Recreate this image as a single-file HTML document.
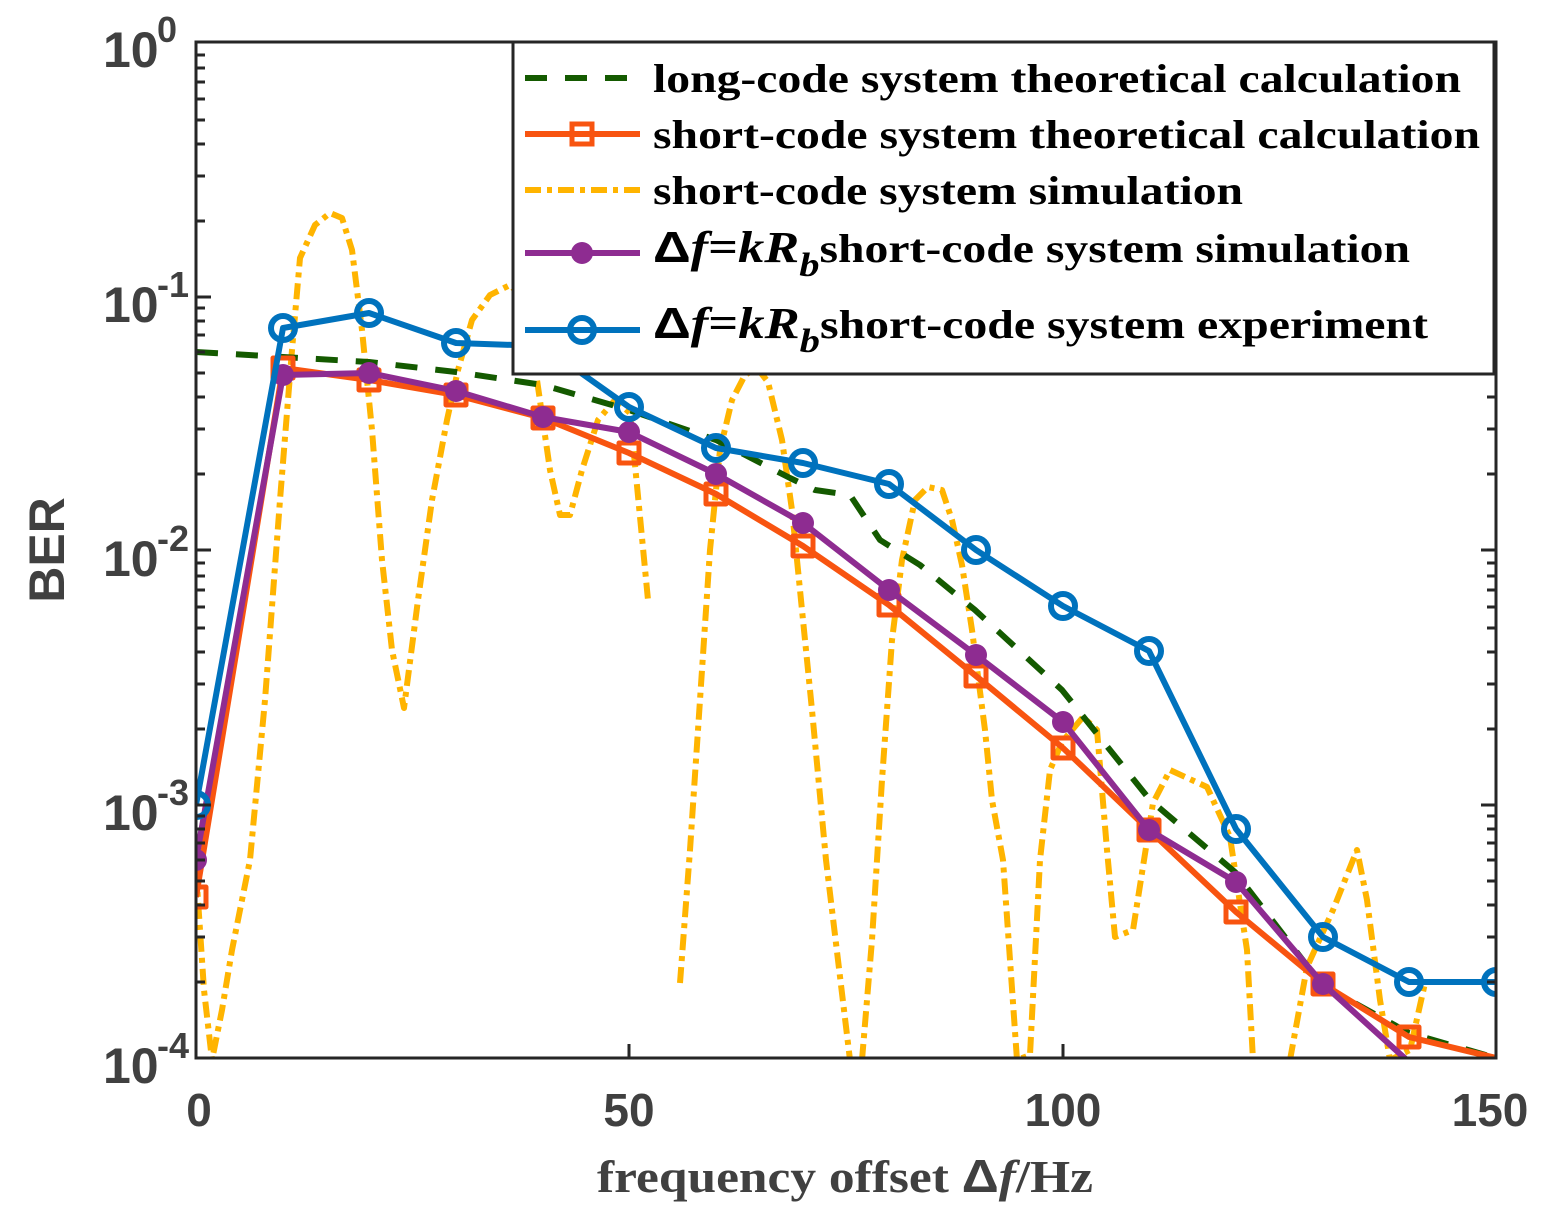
<!DOCTYPE html>
<html><head><meta charset="utf-8"><style>
html,body{margin:0;padding:0;background:#fff;}
svg{display:block;}
</style></head><body>
<svg width="1552" height="1225" viewBox="0 0 1552 1225" xmlns="http://www.w3.org/2000/svg">
<defs><clipPath id="c"><rect x="196" y="42" width="1300" height="1016"/></clipPath></defs>
<rect width="1552" height="1225" fill="#fff"/>
<g clip-path="url(#c)" fill="none" stroke-linejoin="round">
<g stroke="#FFB400" stroke-width="6" stroke-dasharray="16,6,5,6">
<polyline points="196,870 204,990 212,1060 222,1010 232,950 250,860 265,700 280,500 292,350 300,258 315,225 330,213 342,218 352,250 362,330 372,430 382,560 392,650 404,708 418,600 432,500 447,420 458,370 472,320 490,295 510,285 525,300 537,380 550,470 560,515 570,515 582,470 598,420 615,400 630,413 648,600"/>
<polyline points="680,983 690,850 700,700 710,550 720,450 732,400 745,375 757,368 768,382 782,440 792,510 802,610 812,710 826,860 850,1060"/>
<polyline points="862,1060 872,940 882,780 892,640 902,560 915,500 928,487 942,490 952,520 962,565 972,630 985,730 992,800 1003,860 1017,1060 1030,1055 1040,860 1050,770 1062,742 1083,717 1097,730 1107,850 1115,937 1133,930 1153,803 1170,770 1207,787 1230,837 1247,950 1253,1060"/>
<polyline points="1290,1060 1307,967 1333,910 1357,850 1367,900 1380,1000 1390,1060 1410,1050 1425,983"/>
</g>
<polyline stroke="#145A00" stroke-width="6" stroke-dasharray="22,18" points="196,352 283,357 369,362 456,372 543,385 629,410 716,440 790,478 815,490 850,495 880,540 920,565 975,610 1062,690 1150,800 1235,872 1322,985 1409,1033 1496,1058"/>
<polyline stroke="#F85410" stroke-width="6" points="196,897 283,368 369,380 456,395 543,418 629,453 716,494 803,546 889,605 976,676 1063,748 1149,830 1236,912 1323,984 1409,1037 1496,1058"/>
<g stroke="#F85410" stroke-width="5">
<rect x="186" y="887" width="20" height="20"/><rect x="273" y="358" width="20" height="20"/><rect x="359" y="370" width="20" height="20"/><rect x="446" y="385" width="20" height="20"/><rect x="533" y="408" width="20" height="20"/><rect x="619" y="443" width="20" height="20"/><rect x="706" y="484" width="20" height="20"/><rect x="793" y="536" width="20" height="20"/><rect x="879" y="595" width="20" height="20"/><rect x="966" y="666" width="20" height="20"/><rect x="1053" y="738" width="20" height="20"/><rect x="1139" y="820" width="20" height="20"/><rect x="1226" y="902" width="20" height="20"/><rect x="1313" y="974" width="20" height="20"/><rect x="1399" y="1027" width="20" height="20"/>
</g>
<polyline stroke="#8E2C91" stroke-width="6" points="196,860 283,375 369,373 456,391 543,417 629,432 716,474 803,523 889,590 976,655 1063,722 1149,830 1236,882 1323,984 1409,1062"/>
<g fill="#8E2C91">
<circle cx="196" cy="860" r="11"/><circle cx="283" cy="375" r="11"/><circle cx="369" cy="373" r="11"/><circle cx="456" cy="391" r="11"/><circle cx="543" cy="417" r="11"/><circle cx="629" cy="432" r="11"/><circle cx="716" cy="474" r="11"/><circle cx="803" cy="523" r="11"/><circle cx="889" cy="590" r="11"/><circle cx="976" cy="655" r="11"/><circle cx="1063" cy="722" r="11"/><circle cx="1149" cy="830" r="11"/><circle cx="1236" cy="882" r="11"/><circle cx="1323" cy="984" r="11"/>
</g>
<polyline stroke="#0072BD" stroke-width="6" points="196,805 283,328 369,313 456,343 543,346 629,407 716,448 803,463 889,484 976,550 1063,606 1149,651 1236,829 1323,937 1409,982 1496,982"/>
<g stroke="#0072BD" stroke-width="6" fill="none">
<circle cx="196" cy="805" r="12"/><circle cx="283" cy="328" r="12"/><circle cx="369" cy="313" r="12"/><circle cx="456" cy="343" r="12"/><circle cx="543" cy="346" r="12"/><circle cx="629" cy="407" r="12"/><circle cx="716" cy="448" r="12"/><circle cx="803" cy="463" r="12"/><circle cx="889" cy="484" r="12"/><circle cx="976" cy="550" r="12"/><circle cx="1063" cy="606" r="12"/><circle cx="1149" cy="651" r="12"/><circle cx="1236" cy="829" r="12"/><circle cx="1323" cy="937" r="12"/><circle cx="1409" cy="982" r="12"/><circle cx="1496" cy="982" r="12"/>
</g>
</g>
<g stroke="#262626" stroke-width="3" fill="none">
<rect x="196" y="42" width="1300" height="1016"/>
<path d="M196,805h15M196,550h15M196,297h15M1496,805h-15M1496,550h-15M1496,297h-15
M629,1058v-14M1063,1058v-14M629,42v14M1063,42v14
M196,982h9M196,937h9M196,905h9M196,881h9M196,860h9M196,843h9M196,829h9M196,816h9
M196,729h9M196,684h9M196,652h9M196,628h9M196,607h9M196,590h9M196,576h9M196,563h9
M196,474h9M196,429h9M196,397h9M196,373h9M196,352h9M196,335h9M196,321h9M196,308h9
M196,221h9M196,176h9M196,144h9M196,120h9M196,99h9M196,82h9M196,68h9M196,55h9
M1496,982h-9M1496,937h-9M1496,905h-9M1496,881h-9M1496,860h-9M1496,843h-9M1496,829h-9M1496,816h-9
M1496,729h-9M1496,684h-9M1496,652h-9M1496,628h-9M1496,607h-9M1496,590h-9M1496,576h-9M1496,563h-9
M1496,474h-9M1496,429h-9M1496,397h-9M1496,373h-9M1496,352h-9M1496,335h-9M1496,321h-9M1496,308h-9
M1496,221h-9M1496,176h-9M1496,144h-9M1496,120h-9M1496,99h-9M1496,82h-9M1496,68h-9M1496,55h-9"/>
</g>
<g font-family="Liberation Sans, Arial, sans-serif" font-weight="bold" fill="#404040">
<g font-size="46" text-anchor="middle">
<text x="199" y="1126">0</text><text x="629" y="1126">50</text><text x="1063" y="1126">100</text><text x="1490" y="1126">150</text>
</g>
<g font-size="50">
<text x="103" y="67">10</text><text x="103" y="322">10</text><text x="103" y="576">10</text><text x="103" y="830">10</text><text x="103" y="1083">10</text>
</g>
<g font-size="36">
<text x="157" y="42">0</text><text x="157" y="297">-1</text><text x="157" y="551">-2</text><text x="157" y="805">-3</text><text x="157" y="1058">-4</text>
</g>
<text transform="translate(64,550) rotate(-90)" font-size="50" text-anchor="middle">BER</text>
</g>
<text x="597" y="1192" textLength="496" lengthAdjust="spacingAndGlyphs" font-family="Liberation Serif, serif" font-weight="bold" font-size="46" fill="#404040">frequency offset <tspan font-family="Liberation Sans, sans-serif">Δ</tspan><tspan font-style="italic">f</tspan>/Hz</text>
<rect x="513" y="42" width="981" height="332" fill="#fff" stroke="#262626" stroke-width="3"/>
<g stroke-width="6" fill="none">
<line x1="525" y1="78" x2="640" y2="78" stroke="#145A00" stroke-dasharray="22,18"/>
<line x1="525" y1="134" x2="640" y2="134" stroke="#F85410"/>
<rect x="572" y="124" width="20" height="20" stroke="#F85410" stroke-width="5"/>
<line x1="525" y1="190" x2="640" y2="190" stroke="#FFB400" stroke-dasharray="16,6,5,6"/>
<line x1="525" y1="253" x2="640" y2="253" stroke="#8E2C91"/>
<circle cx="582" cy="253" r="11" fill="#8E2C91" stroke="none"/>
<line x1="525" y1="330" x2="640" y2="330" stroke="#0072BD"/>
<circle cx="582" cy="330" r="12" stroke="#0072BD"/>
</g>
<g font-family="Liberation Serif, serif" font-weight="bold" font-size="40" fill="#000">
<text x="653" y="92" textLength="808" lengthAdjust="spacingAndGlyphs">long-code system theoretical calculation</text>
<text x="653" y="148" textLength="827" lengthAdjust="spacingAndGlyphs">short-code system theoretical calculation</text>
<text x="653" y="204" textLength="590" lengthAdjust="spacingAndGlyphs">short-code system simulation</text>
<text x="653" y="262" textLength="757" lengthAdjust="spacingAndGlyphs"><tspan font-family="Liberation Sans, sans-serif" font-size="44">Δ</tspan><tspan font-style="italic" font-size="44">f</tspan><tspan font-size="44">=</tspan><tspan font-style="italic" font-size="44">kR</tspan><tspan font-style="italic" font-size="34" dy="14">b</tspan><tspan dy="-14">short-code system simulation</tspan></text>
<text x="653" y="338" textLength="775" lengthAdjust="spacingAndGlyphs"><tspan font-family="Liberation Sans, sans-serif" font-size="44">Δ</tspan><tspan font-style="italic" font-size="44">f</tspan><tspan font-size="44">=</tspan><tspan font-style="italic" font-size="44">kR</tspan><tspan font-style="italic" font-size="34" dy="14">b</tspan><tspan dy="-14">short-code system experiment</tspan></text>
</g>
</svg>
</body></html>
